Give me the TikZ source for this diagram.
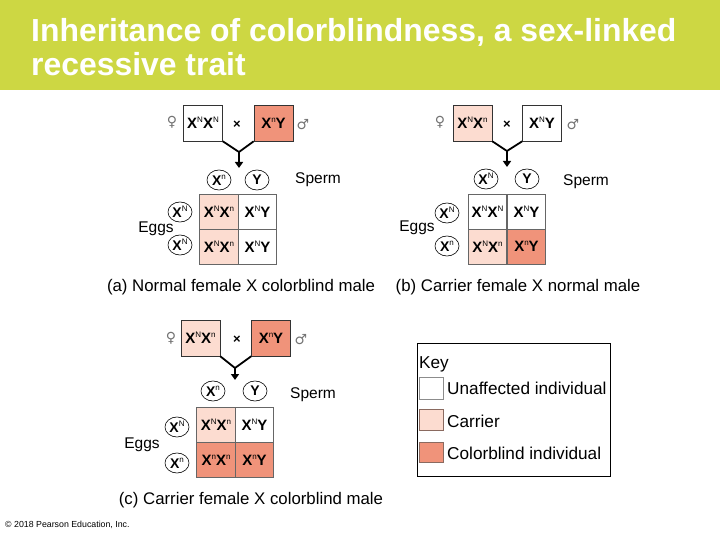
\documentclass[tikz,border=0pt]{standalone}
\usepackage{fontspec}
\setmainfont{Liberation Sans}
\newfontfamily\symfont{DejaVu Sans}
\usetikzlibrary{arrows.meta,shapes.geometric}
\definecolor{titlegreen}{HTML}{CDD743}
\definecolor{carrier}{HTML}{FCDCD0}
\definecolor{cblind}{HTML}{F0937A}
\definecolor{swline}{HTML}{8A6A60}
\newcommand{\gX}[1]{X\raisebox{0.42em}{\fontsize{8}{8}\selectfont\mdseries #1}}
\begin{document}
\begin{tikzpicture}[x=1pt,y=-1pt,
  parent/.style={draw=black!80, line width=0.6pt, minimum width=39pt, minimum height=36pt, inner sep=0pt, font=\fontsize{15}{15}\selectfont\bfseries},
  cell/.style={draw=black!60, line width=0.6pt, minimum width=38.5pt, minimum height=35pt, inner sep=0pt, font=\fontsize{15}{15}\selectfont\bfseries},
  gam/.style={ellipse, draw, line width=0.6pt, minimum width=24pt, minimum height=20pt, inner sep=0pt, font=\fontsize{14}{14}\selectfont\bfseries},
  lab/.style={font=\fontsize{15.5}{15.5}\selectfont},
  capt/.style={font=\fontsize{16.8}{16.8}\selectfont},
  sym/.style={font=\fontsize{14}{14}\selectfont\symfont, text=black!55},
  times/.style={font=\fontsize{13}{13}\selectfont\bfseries},
  link/.style={line width=1.8pt},
  swatch/.style={line width=0.8pt},
  keytxt/.style={anchor=west, font=\fontsize{17.2}{17.2}\selectfont, inner sep=0pt},
  ttl/.style={anchor=base west, inner sep=0pt, text=white, font=\fontsize{31.9}{31.9}\selectfont\bfseries}
]
\useasboundingbox (0,0) rectangle (720,540);
% title bar
\fill[titlegreen] (0,0) rectangle (720,90);
\node[ttl] (title1) at (31,42) {Inheritance of colorblindness, a sex-linked};
\node[ttl] (title2) at (31,76) {recessive trait};

% ---------- (a) ----------
\node[sym] (fsa) at (172,122) {♀};
\node[parent] (fa) at (203,123) {\gX{N}\gX{N}};
\node[times] (xa) at (237,125) {×};
\node[parent, fill=cblind] (ma) at (273.5,123) {\gX{n}Y};
\node[sym] (msa) at (303,125) {♂};
\coordinate (ja) at (239,152);
\coordinate (ta) at (239,168);
\draw[link] (fa.south east) -- (ja) -- (ma.south west);
\draw[link, -{Triangle[width=8pt,length=6pt]}] (ja) -- (ta);
\node[gam] (sa1) at (219,180) {\gX{n}};
\node[gam] (sa2) at (257,180) {Y};
\node[lab] (spa) at (318,180) {Sperm};
\node[cell, fill=carrier] (ca11) at (219,211.5) {\gX{N}\gX{n}};
\node[cell] (ca12) at (257.5,211.5) {\gX{N}Y};
\node[cell, fill=carrier] (ca21) at (219,246.5) {\gX{N}\gX{n}};
\node[cell] (ca22) at (257.5,246.5) {\gX{N}Y};
\node[gam] (ea1) at (180,212) {\gX{N}};
\node[gam] (ea2) at (180,245) {\gX{N}};
\node[lab] (eggsa) at (156,229) {Eggs};
\node[capt] (capa) at (241,287) {(a) Normal female X colorblind male};

% ---------- (b) ----------
\node[sym] (fsb) at (440,122) {♀};
\node[parent, fill=carrier] (fb) at (472.5,123) {\gX{N}\gX{n}};
\node[times] (xb) at (507,125) {×};
\node[parent] (mb) at (542,123) {\gX{N}Y};
\node[sym] (msb) at (573,125) {♂};
\coordinate (jb) at (507,151);
\coordinate (tb) at (507,167);
\draw[link] (fb.south east) -- (jb) -- (mb.south west);
\draw[link, -{Triangle[width=8pt,length=6pt]}] (jb) -- (tb);
\node[gam] (sb1) at (486,179) {\gX{N}};
\node[gam] (sb2) at (527,179) {Y};
\node[lab] (spb) at (586,182) {Sperm};
\node[cell] (cb11) at (487.5,212) {\gX{N}\gX{N}};
\node[cell] (cb12) at (526.5,212) {\gX{N}Y};
\node[cell, fill=carrier] (cb21) at (487.5,246.5) {\gX{N}\gX{n}};
\node[cell, fill=cblind] (cb22) at (526.5,246.5) {\gX{n}Y};
\node[gam] (eb1) at (447,213) {\gX{N}};
\node[gam] (eb2) at (447,246) {\gX{n}};
\node[lab] (eggsb) at (417,228) {Eggs};
\node[capt] (capb) at (518,287) {(b) Carrier female X normal male};

% ---------- (c) ----------
\node[sym] (fsc) at (171,338) {♀};
\node[parent, fill=carrier] (fc) at (200.5,338) {\gX{N}\gX{n}};
\node[times] (xc) at (237,340) {×};
\node[parent, fill=cblind] (mc) at (271,338) {\gX{n}Y};
\node[sym] (msc) at (301,340) {♂};
\coordinate (jc) at (235,368);
\coordinate (tc) at (235,380);
\draw[link] (fc.south east) -- (jc) -- (mc.south west);
\draw[link, -{Triangle[width=8pt,length=6pt]}] (jc) -- (tc);
\node[gam] (sc1) at (213,391) {\gX{n}};
\node[gam] (sc2) at (255,391) {Y};
\node[lab] (spc) at (313,395) {Sperm};
\node[cell, fill=carrier] (cc11) at (216,424.5) {\gX{N}\gX{n}};
\node[cell] (cc12) at (254.5,424.5) {\gX{N}Y};
\node[cell, fill=cblind] (cc21) at (216,460) {\gX{n}\gX{n}};
\node[cell, fill=cblind] (cc22) at (254.5,460) {\gX{n}Y};
\node[gam] (ec1) at (177,427) {\gX{N}};
\node[gam] (ec2) at (177,463) {\gX{n}};
\node[lab] (eggsc) at (142,445) {Eggs};
\node[capt] (capc) at (251,500) {(c) Carrier female X colorblind male};

% ---------- key ----------
\draw[line width=0.8pt] (417,343) rectangle (610,476);
\node[keytxt] (keyt) at (419,364) {Key};
\draw[swatch, draw=black!45, fill=white] (419,377) rectangle (443,399);
\draw[swatch, draw=swline, fill=carrier] (419,409) rectangle (443,430);
\draw[swatch, draw=swline, fill=cblind] (419,442) rectangle (443,462);
\node[keytxt] (k1) at (447,388) {Unaffected individual};
\node[keytxt] (k2) at (447,421) {Carrier};
\node[keytxt] (k3) at (447,453) {Colorblind individual};

% copyright
\node[anchor=west, inner sep=0pt, font=\fontsize{8.8}{8.8}\selectfont] (copy) at (5,525) {© 2018 Pearson Education, Inc.};
\end{tikzpicture}
\end{document}
